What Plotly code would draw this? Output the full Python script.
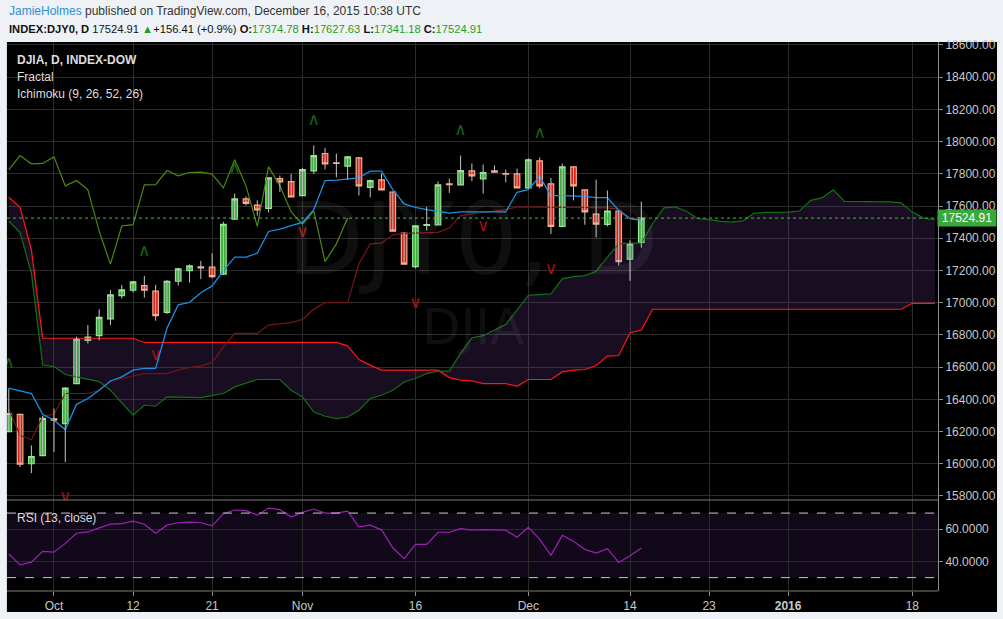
import plotly.graph_objects as go

# trading days shown (history), then the 26 projected cloud days
dates = [
    "2015-09-25", "2015-09-28", "2015-09-29", "2015-09-30",
    "2015-10-01", "2015-10-02", "2015-10-05", "2015-10-06", "2015-10-07", "2015-10-08", "2015-10-09",
    "2015-10-12", "2015-10-13", "2015-10-14", "2015-10-15", "2015-10-16", "2015-10-19", "2015-10-20",
    "2015-10-21", "2015-10-22", "2015-10-23", "2015-10-26", "2015-10-27", "2015-10-28", "2015-10-29",
    "2015-10-30", "2015-11-02", "2015-11-03", "2015-11-04", "2015-11-05", "2015-11-06", "2015-11-09",
    "2015-11-10", "2015-11-11", "2015-11-12", "2015-11-13", "2015-11-16", "2015-11-17", "2015-11-18",
    "2015-11-19", "2015-11-20", "2015-11-23", "2015-11-24", "2015-11-25", "2015-11-27", "2015-11-30",
    "2015-12-01", "2015-12-02", "2015-12-03", "2015-12-04", "2015-12-07", "2015-12-08", "2015-12-09",
    "2015-12-10", "2015-12-11", "2015-12-14", "2015-12-15",
]
future_dates = [
    "2015-12-16", "2015-12-17", "2015-12-18", "2015-12-21", "2015-12-22", "2015-12-23", "2015-12-24",
    "2015-12-25", "2015-12-28", "2015-12-29", "2015-12-30", "2015-12-31", "2016-01-01", "2016-01-04",
    "2016-01-05", "2016-01-06", "2016-01-07", "2016-01-08", "2016-01-11", "2016-01-12", "2016-01-13",
    "2016-01-14", "2016-01-15", "2016-01-18", "2016-01-19", "2016-01-20",
]
all_dates = dates + future_dates

opens = [16200, 16306, 16000, 16050, 16278, 16249, 16498, 16766, 16795, 16899, 17044,
         17077, 17106, 17071, 16940, 17133, 17199, 17222, 17220, 17177, 17519, 17644,
         17606, 17585, 17770, 17751, 17665, 17818, 17926, 17868, 17847, 17899, 17716,
         17762, 17687, 17432, 17224, 17480, 17482, 17737, 17731, 17818, 17768, 17818,
         17801, 17799, 17712, 17880, 17737, 17473, 17843, 17700, 17550, 17486, 17569,
         17270, 17374.78]
highs = [16467, 16310, 16114, 16297, 16342, 16475, 16789, 16861, 16959, 17079, 17110,
         17135, 17166, 17110, 17141, 17216, 17237, 17260, 17307, 17502, 17677, 17660,
         17635, 17778, 17789, 17799, 17837, 17976, 17960, 17926, 17909, 17905, 17764,
         17801, 17690, 17435, 17480, 17594, 17752, 17770, 17913, 17864, 17858, 17852,
         17826, 17832, 17897, 17901, 17774, 17864, 17843, 17700, 17764, 17696, 17569,
         17387, 17627.63]
lows = [16197, 15979, 15942, 16050, 16072, 16010, 16498, 16747, 16766, 16861, 17025,
        17063, 17031, 16888, 16929, 17106, 17125, 17146, 17152, 17173, 17515, 17603,
        17540, 17560, 17687, 17656, 17665, 17798, 17827, 17778, 17764, 17666, 17654,
        17700, 17444, 17239, 17212, 17448, 17482, 17681, 17731, 17754, 17677, 17808,
        17747, 17712, 17712, 17710, 17426, 17473, 17635, 17484, 17405, 17473, 17230,
        17135, 17341.18]
closes = [16312, 15997, 16045, 16282, 16270, 16470, 16774, 16786, 16909, 17048, 17079,
          17129, 17077, 16919, 17133, 17210, 17228, 17216, 17162, 17486, 17644, 17616,
          17575, 17774, 17749, 17656, 17826, 17913, 17862, 17864, 17905, 17725, 17758,
          17700, 17444, 17239, 17476, 17484, 17731, 17733, 17820, 17787, 17808, 17810,
          17798, 17712, 17887, 17725, 17473, 17843, 17725, 17563, 17488, 17569, 17255,
          17365, 17524.91]

tenkan = [16469, 16452, 16436, 16307, 16270, 16212, 16369, 16405, 16456, 16514, 16539,
          16581, 16592, 16592, 16841, 16986, 17002, 17062, 17104, 17199, 17283, 17283,
          17307, 17442, 17457, 17478, 17498, 17577, 17758, 17760, 17768, 17775, 17816,
          17816, 17702, 17613, 17592, 17577, 17567, 17556, 17563, 17563, 17563, 17563,
          17563, 17685, 17702, 17784, 17664, 17664, 17664, 17660, 17652, 17652, 17573,
          17521, 17509]
kijun = [16340, 16176, 16149, 16295, 16307, 16436, 16436, 16436, 16456, 16514, 16529,
         16544, 16560, 16560, 16560, 16581, 16598, 16606, 16629, 16726, 16809, 16809,
         16809, 16861, 16867, 16876, 16896, 16959, 17000, 17000, 17000, 17241, 17365,
         17370, 17421, 17430, 17432, 17434, 17436, 17463, 17540, 17552, 17561, 17567,
         17577, 17594, 17594, 17594, 17594, 17594, 17594, 17594, 17590, 17588, 17580,
         17525, 17522]
span_a = [17507, 17435, 17182, 16613, 16603, 16554, 16539, 16525, 16510, 16456, 16377,
          16301, 16363, 16357, 16415, 16415, 16415, 16411, 16425, 16436, 16477, 16500,
          16523, 16523, 16523, 16456, 16415, 16321, 16295, 16280, 16290, 16332, 16405,
          16425, 16456, 16508, 16529, 16560, 16575, 16575, 16685, 16782, 16795, 16830,
          16865, 16954, 17046, 17050, 17055, 17148, 17162, 17168, 17195, 17282, 17365,
          17369, 17369, 17490, 17588, 17594, 17567, 17521, 17515, 17504, 17500, 17508,
          17556, 17560, 17562, 17562, 17569, 17635, 17650, 17700, 17629, 17629, 17629,
          17629, 17625, 17619, 17562, 17525, 17515]
span_b = [17654, 17592, 17327, 16779, 16779, 16779, 16779, 16779, 16779, 16779, 16779,
          16779, 16753, 16753, 16753, 16753, 16753, 16753, 16753, 16753, 16753, 16753,
          16753, 16753, 16753, 16753, 16753, 16753, 16753, 16753, 16732, 16647, 16612,
          16581, 16581, 16581, 16581, 16581, 16581, 16535, 16519, 16515, 16498, 16498,
          16498, 16481, 16523, 16523, 16523, 16570, 16581, 16585, 16610, 16668, 16672,
          16813, 16830, 16959, 16959, 16959, 16959, 16959, 16959, 16959, 16959, 16959,
          16959, 16959, 16959, 16959, 16959, 16959, 16959, 16959, 16959, 16959, 16959,
          16959, 16959, 16959, 16996, 16996, 16996]
lag_shift = 26

fractal_up_dates = ["2015-09-25", "2015-10-13", "2015-10-23", "2015-11-03", "2015-11-20", "2015-12-02"]
fractal_up_levels = [16623, 17318, 17833, 18127, 18065, 18050]
fractal_dn_dates = ["2015-10-02", "2015-10-14", "2015-11-02", "2015-11-16", "2015-11-24", "2015-12-03"]
fractal_dn_levels = [15790, 16668, 17434, 16996, 17470, 17204]

rsi = [44.6, 37.9, 39.6, 46.3, 45.8, 51.2, 57.5, 58.3, 60.8, 63.1, 63.5,
       65.0, 63.1, 57.5, 62.5, 64.0, 64.4, 64.0, 62.1, 69.6, 71.9, 71.5,
       68.7, 73.1, 72.1, 67.5, 70.4, 72.5, 70.0, 70.0, 71.2, 61.5, 62.5,
       59.6, 48.5, 41.7, 50.6, 50.6, 58.1, 58.1, 60.4, 59.4, 59.8, 59.8,
       59.4, 55.0, 61.2, 53.8, 43.8, 56.2, 52.5, 47.5, 45.2, 47.9, 39.4,
       43.5, 48.3]
rsi_levels = [70, 30]

tick_dates = ["2015-10-01", "2015-10-12", "2015-10-21", "2015-11-02", "2015-11-16",
              "2015-12-01", "2015-12-14", "2015-12-23", "2016-01-01", "2016-01-18"]
tick_text = ["Oct", "12", "21", "Nov", "16", "Dec", "14", "23", "<b>2016</b>", "18"]

last_price = 17524.91

GRID = "#2b2b2b"
AXIS_FONT = dict(family="Liberation Sans, Arial", size=12, color="#c8c8c8")

fig = go.Figure()

# ichimoku cloud
fig.add_trace(go.Scatter(x=all_dates, y=span_b, mode="lines",
                         line=dict(color="#ff1717", width=1.2), hoverinfo="skip"))
fig.add_trace(go.Scatter(x=all_dates, y=span_a, mode="lines", fill="tonexty",
                         fillcolor="rgba(125,70,175,0.19)",
                         line=dict(color="#137013", width=1.2), hoverinfo="skip"))

# lagging span = closes moved back 26 bars
fig.add_trace(go.Scatter(x=dates[:len(dates) - lag_shift], y=closes[lag_shift:], mode="lines",
                         line=dict(color="#488a12", width=1.2), hoverinfo="skip"))
fig.add_trace(go.Scatter(x=dates, y=kijun, mode="lines",
                         line=dict(color="#761515", width=1.2), hoverinfo="skip"))
fig.add_trace(go.Scatter(x=dates, y=tenkan, mode="lines",
                         line=dict(color="#1a8fe3", width=1.3), hoverinfo="skip"))

# wicks
wx, wy = [], []
for d, h, l in zip(dates, highs, lows):
    wx += [d, d, None]
    wy += [l, h, None]
fig.add_trace(go.Scatter(x=wx, y=wy, mode="lines", line=dict(color="#c4c4c4", width=1),
                         hoverinfo="skip"))

# bodies
body_hi = [max(o, c) for o, c in zip(opens, closes)]
body_lo = [min(o, c) for o, c in zip(opens, closes)]
fig.add_trace(go.Candlestick(
    x=dates, open=opens, high=body_hi, low=body_lo, close=closes,
    increasing=dict(fillcolor="#3aad3a", line=dict(color="#93e593", width=1.2)),
    decreasing=dict(fillcolor="#d7231b", line=dict(color="#f7ad88", width=1.2)),
    whiskerwidth=0, hoverinfo="skip"))

# fractals
fig.add_trace(go.Scatter(x=fractal_up_dates, y=fractal_up_levels, mode="text", text=["∧"] * len(fractal_up_dates),
                         textfont=dict(family="DejaVu Sans", size=17, color="#146414"), hoverinfo="skip"))
fig.add_trace(go.Scatter(x=fractal_dn_dates, y=fractal_dn_levels, mode="text", text=["∨"] * len(fractal_dn_dates),
                         textfont=dict(family="DejaVu Sans", size=17, color="#a01313"), hoverinfo="skip"))

# rsi pane
fig.add_trace(go.Scatter(x=dates, y=rsi, mode="lines", xaxis="x2", yaxis="y2",
                         line=dict(color="#9b22b3", width=1.2), hoverinfo="skip"))

split = 91 / 549

shapes = [
    dict(type="rect", xref="paper", yref="paper", x0=-0.0001, x1=(997 - 7) / 931, y0=-21 / 549, y1=1,
         fillcolor="black", line=dict(width=0), layer="below"),
    dict(type="rect", xref="paper", yref="y2", x0=0, x1=1, y0=rsi_levels[1], y1=rsi_levels[0],
         fillcolor="#110919", line=dict(width=0), layer="below"),
    dict(type="line", xref="paper", yref="paper", x0=0, x1=1, y0=split, y1=split,
         line=dict(color="#7c7c7c", width=1)),
    dict(type="line", xref="paper", yref="paper", x0=0, x1=1, y0=0, y1=0,
         line=dict(color="#7c7c7c", width=1)),
    dict(type="line", xref="paper", yref="y", x0=0, x1=1, y0=last_price, y1=last_price,
         line=dict(color="#3fc23f", width=1, dash="dot")),
]
for lvl in rsi_levels:
    shapes.append(dict(type="line", xref="paper", yref="y2", x0=0, x1=1, y0=lvl, y1=lvl,
                       line=dict(color="#c8c8c8", width=1, dash="dash")))

HDR = "Liberation Sans, Arial"
GREEN = "#1e9e1e"
annotations = [
    dict(text="<span style='color:#2d8fd5'>JamieHolmes</span> published on TradingView.com, December 16, 2015 10:38 UTC",
         x=0, y=(591 - 11) / 549, xref="paper", yref="paper", xanchor="left", yanchor="middle",
         showarrow=False, font=dict(family=HDR, size=12, color="#333333")),
    dict(text=("<b>INDEX:DJY0, D</b> 17524.91 <span style='color:%s'>▲</span>+156.41 (+0.9%%) "
               "<b>O:</b><span style='color:%s'>17374.78</span> <b>H:</b><span style='color:%s'>17627.63</span> "
               "<b>L:</b><span style='color:%s'>17341.18</span> <b>C:</b><span style='color:%s'>17524.91</span>")
         % (GREEN, GREEN, GREEN, GREEN, GREEN),
         x=0, y=(591 - 29) / 549, xref="paper", yref="paper", xanchor="left", yanchor="middle",
         showarrow=False, font=dict(family=HDR, size=11.2, color="#111111")),
    dict(text="<b>DJIA, D, INDEX-DOW</b>", x=8 / 931, y=(591 - 60) / 549, xref="paper", yref="paper",
         xanchor="left", yanchor="middle", showarrow=False, font=dict(family=HDR, size=12, color="#dddddd")),
    dict(text="Fractal", x=8 / 931, y=(591 - 77) / 549, xref="paper", yref="paper",
         xanchor="left", yanchor="middle", showarrow=False, font=dict(family=HDR, size=12, color="#dddddd")),
    dict(text="Ichimoku (9, 26, 52, 26)", x=8 / 931, y=(591 - 94) / 549, xref="paper", yref="paper",
         xanchor="left", yanchor="middle", showarrow=False, font=dict(family=HDR, size=12, color="#dddddd")),
    dict(text="RSI (13, close)", x=8 / 931, y=(591 - 518) / 549, xref="paper", yref="paper",
         xanchor="left", yanchor="middle", showarrow=False, font=dict(family=HDR, size=12, color="#dddddd")),
    # watermark
    dict(text="DJY0, D", x=(473 - 7) / 931, y=(591 - 240) / 549, xref="paper", yref="paper",
         showarrow=False, font=dict(family="DejaVu Sans", size=100, color="rgba(255,255,255,0.06)")),
    dict(text="DJIA", x=(473 - 7) / 931, y=(591 - 327) / 549, xref="paper", yref="paper",
         showarrow=False, font=dict(family="DejaVu Sans", size=50, color="rgba(255,255,255,0.06)")),
    # last price tag
    dict(text="17524.91", x=1, y=last_price, xref="paper", yref="y", xanchor="left", yanchor="middle",
         xshift=-1, showarrow=False, bgcolor="#3ba83b", borderpad=1, width=56,
         font=dict(family="Liberation Sans, Arial", size=12, color="white")),
]

fig.update_layout(
    width=1003, height=619,
    margin=dict(l=7, r=65, t=42, b=28, pad=0),
    paper_bgcolor="#eef2f6", plot_bgcolor="rgba(0,0,0,0)",
    showlegend=False,
    shapes=shapes, annotations=annotations,
    xaxis=dict(domain=[0, 1], anchor="y", type="category", categoryorder="array", categoryarray=all_dates,
               range=[-0.16, 82.27], tickvals=tick_dates, ticktext=tick_text, showticklabels=False,
               showgrid=True, gridcolor=GRID, zeroline=False, rangeslider=dict(visible=False)),
    xaxis2=dict(domain=[0, 1], anchor="y2", type="category", categoryorder="array", categoryarray=all_dates,
                matches="x", range=[-0.16, 82.27], tickvals=tick_dates, ticktext=tick_text,
                showgrid=True, gridcolor=GRID, zeroline=False, ticks="outside", ticklen=4, tickcolor="#8a8a8a",
                tickfont=AXIS_FONT),
    yaxis=dict(domain=[split, 1], anchor="x", side="right", range=[15775, 18618], tick0=15800, dtick=200,
               tickformat=".2f", showgrid=True, gridcolor=GRID, zeroline=False, showline=True,
               linecolor="#8a8a8a", ticks="outside", ticklen=4, tickcolor="#8a8a8a", tickfont=AXIS_FONT),
    yaxis2=dict(domain=[0, split], anchor="x2", side="right", range=[21.7, 78.1], tickvals=[40, 60],
                tickformat=".4f", showgrid=True, gridcolor=GRID, zeroline=False, showline=True,
                linecolor="#8a8a8a", ticks="outside", ticklen=4, tickcolor="#8a8a8a", tickfont=AXIS_FONT),
)

# page body has a default margin; drop it so the figure sits at the window corner
fig.write_html("out.html", config={"displayModeBar": False},
               post_script="document.body.style.margin='0px';")
